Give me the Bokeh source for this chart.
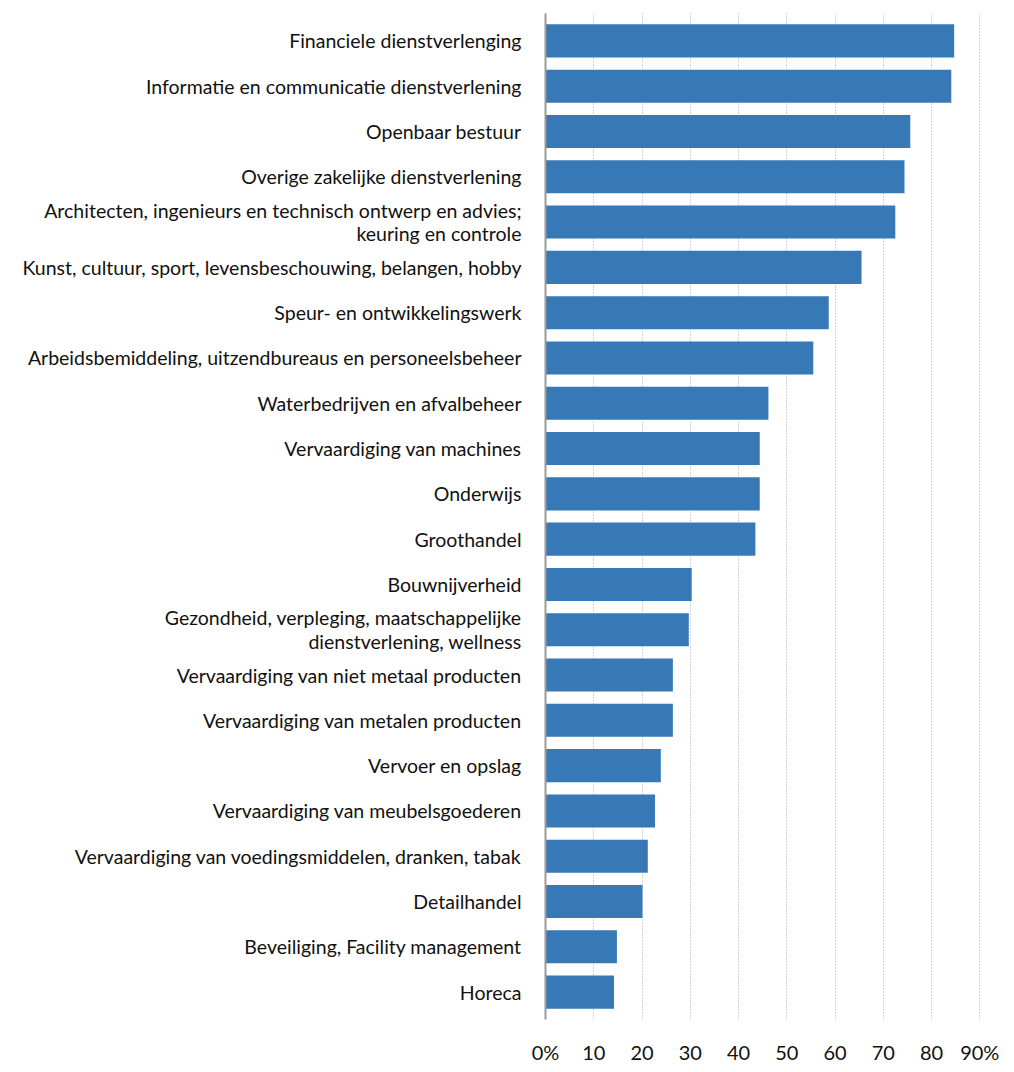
from bokeh.plotting import figure
from bokeh.models import FactorRange, Range1d, FixedTicker, ColumnDataSource
from bokeh.embed import file_html
from bokeh.resources import INLINE

categories = [
    "Financiele dienstverlenging",
    "Informatie en communicatie dienstverlening",
    "Openbaar bestuur",
    "Overige zakelijke dienstverlening",
    "Architecten, ingenieurs en technisch ontwerp en advies;\nkeuring en controle",
    "Kunst, cultuur, sport, levensbeschouwing, belangen, hobby",
    "Speur- en ontwikkelingswerk",
    "Arbeidsbemiddeling, uitzendbureaus en personeelsbeheer",
    "Waterbedrijven en afvalbeheer",
    "Vervaardiging van machines",
    "Onderwijs",
    "Groothandel",
    "Bouwnijverheid",
    "Gezondheid, verpleging, maatschappelijke\ndienstverlening, wellness",
    "Vervaardiging van niet metaal producten",
    "Vervaardiging van metalen producten",
    "Vervoer en opslag",
    "Vervaardiging van meubelsgoederen",
    "Vervaardiging van voedingsmiddelen, dranken, tabak",
    "Detailhandel",
    "Beveiliging, Facility management",
    "Horeca",
]
values = [84.7, 84.1, 75.6, 74.4, 72.5, 65.5, 58.7, 55.5, 46.2, 44.4, 44.4, 43.5,
          30.3, 29.7, 26.4, 26.4, 23.9, 22.7, 21.2, 20.1, 14.8, 14.2]
tick_values = [0, 10, 20, 30, 40, 50, 60, 70, 80, 90]
tick_labels = ["0%", "10", "20", "30", "40", "50", "60", "70", "80", "90%"]

FONT = "Lato"

source = ColumnDataSource(data=dict(cat=categories, val=values))

p = figure(
    y_range=FactorRange(factors=list(reversed(categories)), range_padding=0.105,
                        range_padding_units="absolute"),
    x_range=Range1d(0, 94.3),
    width=1010, height=1066,
    output_backend="svg", toolbar_location=None,
    min_border_left=545, min_border_right=10, min_border_top=13, min_border_bottom=46,
)

p.hbar(y="cat", right="val", left=0, height=0.73, source=source,
       fill_color="#3779b7", line_color=None)

p.outline_line_color = None
p.background_fill_color = "white"
p.border_fill_color = "white"

p.ygrid.grid_line_color = None
p.xgrid.ticker = FixedTicker(ticks=tick_values)
p.xgrid.grid_line_color = "#aaaaaa"
p.xgrid.grid_line_dash = "1 2"
p.xgrid.grid_line_width = 1

xa = p.xaxis[0]
xa.ticker = FixedTicker(ticks=tick_values)
xa.major_label_overrides = {v: l for v, l in zip(tick_values, tick_labels)}
xa.axis_line_color = None
xa.major_tick_line_color = None
xa.minor_tick_line_color = None
xa.major_label_text_font = FONT
xa.major_label_text_font_size = "20px"
xa.major_label_text_color = "#111111"
xa.major_label_standoff = 14

ya = p.yaxis[0]
ya.axis_line_color = "#9a9a9a"
ya.axis_line_width = 2
ya.major_tick_line_color = None
ya.minor_tick_line_color = None
ya.major_label_text_font = FONT
ya.major_label_text_font_size = "19.5px"
ya.major_label_text_color = "#111111"
ya.major_label_text_line_height = 1.03
ya.major_label_standoff = 18

open("out.html", "w").write(file_html(p, INLINE))
